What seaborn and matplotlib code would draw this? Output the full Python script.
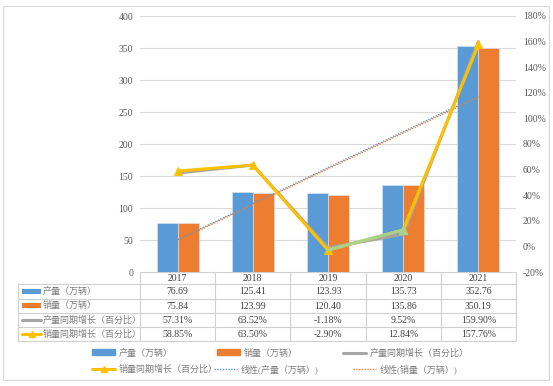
import numpy as np
import pandas as pd
import matplotlib
matplotlib.use("Agg")
import matplotlib.pyplot as plt
from matplotlib.patches import Rectangle, Patch
from matplotlib.lines import Line2D
import seaborn as sns

years = ["2017", "2018", "2019", "2020", "2021"]
production = [76.69, 125.41, 123.93, 135.73, 352.76]
sales = [75.84, 123.99, 120.40, 135.86, 350.19]
prod_growth = [57.31, 63.52, -1.18, 9.52, 159.90]
sales_growth = [58.85, 63.50, -2.90, 12.84, 157.76]

lbl_prod = "产量（万辆）"
lbl_sales = "销量（万辆）"
lbl_pg = "产量同期增长（百分比）"
lbl_sg = "销量同期增长（百分比）"
lbl_tp = "线性(产量（万辆）)"
lbl_ts = "线性(销量（万辆）)"

sns.set_theme(style="white")
plt.rcParams['font.family'] = ['Liberation Serif', 'Noto Sans CJK SC']

C_BLUE = "#5b9bd5"
C_ORANGE = "#ed7d31"
C_GRAY = "#a5a5a5"
C_YELLOW = "#ffc000"
C_GREEN = "#a9d18e"
GRID = "#d9d9d9"
TXT = "#595959"

W, H = 553, 386
fig = plt.figure(figsize=(W / 100, H / 100), dpi=100)

def fx(px):
    return px / W

def fy(py):
    return 1 - py / H

x0, x1, y0, y1 = 140, 516, 16, 272
ax = fig.add_axes([fx(x0), fy(y1), fx(x1) - fx(x0), fy(y0) - fy(y1)])

df = pd.DataFrame({
    "year": years * 2,
    "value": production + sales,
    "series": [lbl_prod] * len(years) + [lbl_sales] * len(years),
})
sns.barplot(data=df, x="year", y="value", hue="series", order=years,
            hue_order=[lbl_prod, lbl_sales], palette=[C_BLUE, C_ORANGE],
            saturation=1, width=0.56, gap=0, ax=ax, edgecolor="#dce9f5",
            linewidth=0.4, legend=False, zorder=2)

idx = np.arange(len(years))
sns.regplot(x=idx, y=np.array(production), scatter=False, ci=None, ax=ax,
            line_kws=dict(color=C_BLUE, ls=(0, (1, 1)), lw=1.0, zorder=3))
sns.regplot(x=idx, y=np.array(sales), scatter=False, ci=None, ax=ax,
            line_kws=dict(color=C_ORANGE, ls=(1, (1, 1)), lw=1.0, zorder=3))

ax.set_xlim(-0.5, len(years) - 0.5)
ax.set_ylim(0, 400)
ax.set_yticks(np.arange(0, 401, 50))
ax.yaxis.grid(True, color=GRID, lw=0.8)
ax.set_axisbelow(True)
ax.set_xlabel("")
ax.set_ylabel("")
ax.set_xticks([])
for s in ax.spines.values():
    s.set_visible(False)
ax.tick_params(axis="y", length=0, labelsize=7, labelcolor=TXT, pad=5)

ax2 = ax.twinx()
pg = np.array(prod_growth) / 100
sg = np.array(sales_growth) / 100
sns.lineplot(x=idx, y=pg, ax=ax2, color=C_GRAY, lw=2.2, zorder=3)
sns.lineplot(x=idx, y=sg, ax=ax2, color=C_YELLOW, lw=2.2, marker="^",
             markersize=6, markeredgecolor=C_YELLOW, zorder=4)
sns.lineplot(x=idx[2:4], y=sg[2:4], ax=ax2, color=C_GREEN, lw=2.2, zorder=5)
ax2.plot(idx[3], sg[3], marker="^", ms=6, color=C_GREEN, zorder=6)
ax2.set_ylim(-0.2, 1.8)
ax2.set_yticks(np.arange(-0.2, 1.81, 0.2))
ax2.set_yticklabels([f"{round(v * 100):d}%" for v in np.arange(-0.2, 1.81, 0.2)])
ax2.set_xlim(-0.5, len(years) - 0.5)
for s in ax2.spines.values():
    s.set_visible(False)
ax2.tick_params(axis="y", length=0, labelsize=7, labelcolor=TXT, pad=5)
ax2.set_xlabel("")
ax2.set_ylabel("")

# data table
tab = fig.add_axes([0, 0, 1, 1], zorder=-1)
tab.set_xlim(0, W)
tab.set_ylim(H, 0)
tab.axis("off")
LINE = "#d0d0d0"
rows_y = [272, 284, 298.5, 313, 327, 341]
col_w = (x1 - x0) / len(years)
cols_x = [x0 + i * col_w for i in range(len(years) + 1)]
tl = 18
tab.plot([x0, x1], [rows_y[0]] * 2, color=LINE, lw=0.8)
for yy in rows_y[1:]:
    tab.plot([tl, x1], [yy, yy], color=LINE, lw=0.8)
for xx in cols_x:
    tab.plot([xx, xx], [rows_y[0], rows_y[-1]], color=LINE, lw=0.8)
tab.plot([tl, tl], [rows_y[1], rows_y[-1]], color=LINE, lw=0.8)

for i, yr in enumerate(years):
    cx = (cols_x[i] + cols_x[i + 1]) / 2
    tab.text(cx, (rows_y[0] + rows_y[1]) / 2 + 0.5, yr, ha="center", va="center",
             fontsize=7, color="#404040")

table_rows = [
    (lbl_prod, [f"{v:.2f}" for v in production]),
    (lbl_sales, [f"{v:.2f}" for v in sales]),
    (lbl_pg, [f"{v:.2f}%" for v in prod_growth]),
    (lbl_sg, [f"{v:.2f}%" for v in sales_growth]),
]
for r, (lab, vals) in enumerate(table_rows):
    cy = (rows_y[r + 1] + rows_y[r + 2]) / 2
    kx0, kx1 = 22, 41
    if r == 0:
        tab.add_patch(Rectangle((kx0, cy - 2.5), kx1 - kx0, 5, color=C_BLUE, lw=0))
    elif r == 1:
        tab.add_patch(Rectangle((kx0, cy - 2.5), kx1 - kx0, 5, color=C_ORANGE, lw=0))
    elif r == 2:
        tab.plot([kx0, kx1], [cy, cy], color=C_GRAY, lw=2.2)
    else:
        tab.plot([kx0, kx1], [cy, cy], color=C_YELLOW, lw=2.2)
        tab.plot([(kx0 + kx1) / 2], [cy], marker="^", ms=5, color=C_YELLOW)
    tab.text(43, cy, lab, ha="left", va="center", fontsize=6.5, color="#7f7f7f")
    for i, v in enumerate(vals):
        cx = (cols_x[i] + cols_x[i + 1]) / 2
        tab.text(cx, cy + 0.5, v, ha="center", va="center", fontsize=7, color="#404040")

# legend: each entry placed where the reference has it
legend_items = [
    (Patch(color=C_BLUE, label=lbl_prod), 92, 353),
    (Patch(color=C_ORANGE, label=lbl_sales), 217, 353),
    (Line2D([], [], color=C_GRAY, lw=2.2, label=lbl_pg), 343, 353),
    (Line2D([], [], color=C_YELLOW, lw=2.2, marker="^", ms=5, label=lbl_sg), 92, 369),
    (Line2D([], [], color=C_BLUE, lw=1.0, ls=(0, (1, 1)), label=lbl_tp), 214, 369),
    (Line2D([], [], color=C_ORANGE, lw=1.0, ls=(0, (1, 1)), label=lbl_ts), 353, 369),
]
for h, lx, ly in legend_items:
    lg = fig.legend(handles=[h], loc="center left", frameon=False, fontsize=6.5,
                    handlelength=2.6, handleheight=0.6, handletextpad=0.35,
                    borderaxespad=0, borderpad=0,
                    bbox_to_anchor=(fx(lx), fy(ly)))
    for t in lg.get_texts():
        t.set_color("#7f7f7f")

# outer border
fig.patches.append(Rectangle((fx(3), fy(380)), fx(549) - fx(3), fy(6) - fy(380),
                             transform=fig.transFigure, fill=False,
                             edgecolor="#d9d9d9", lw=0.8))

fig.savefig("out.png", dpi=100)
